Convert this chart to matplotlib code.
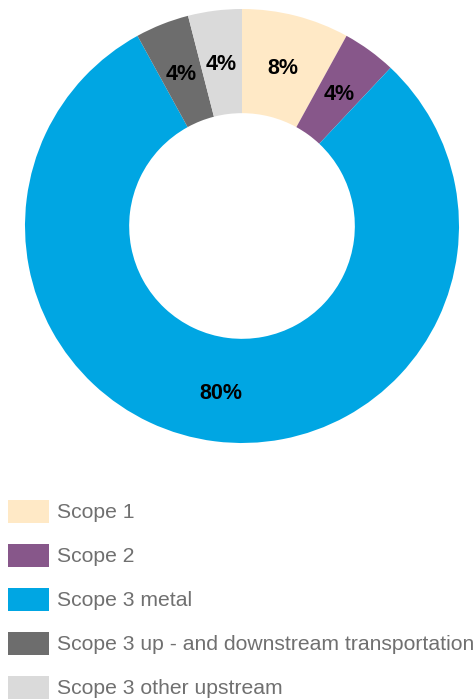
import numpy as np
import matplotlib.pyplot as plt
from matplotlib.patches import Rectangle

labels = ['Scope 1', 'Scope 2', 'Scope 3 metal',
          'Scope 3 up - and downstream transportation', 'Scope 3 other upstream']
shares = [8, 4, 80, 4, 4]
colors = ['#FFE9C6', '#87578A', '#00A6E3', '#6D6D6D', '#DADADA']

W, H = 477, 700
fig = plt.figure(figsize=(W / 100, H / 100), dpi=100)

# donut: centre (242, 226) px, outer radius 217 px
cx, cy, r = 242, 226, 217
ax = fig.add_axes([(cx - r) / W, 1 - (cy + r) / H, 2 * r / W, 2 * r / H])
wedges, _ = ax.pie(shares, colors=colors, startangle=90, counterclock=False,
                   radius=1, wedgeprops=dict(width=0.48, edgecolor='none'))

# percentage labels in the middle of the ring, nudged a little down
for w, v in zip(wedges, shares):
    mid = np.deg2rad((w.theta1 + w.theta2) / 2)
    ax.text(0.765 * np.cos(mid), 0.765 * np.sin(mid) - 3 / r, f'{v}%',
            fontsize=15.5, fontweight='bold', color='black',
            family='Liberation Sans', ha='center', va='center')
ax.set_xlim(-1, 1)
ax.set_ylim(-1, 1)
ax.set_aspect('equal')

# legend drawn by hand below the donut
row0, step = 511.5, 44
for i, (lab, col) in enumerate(zip(labels, colors)):
    yc = row0 + i * step
    fig.patches.append(Rectangle((8 / W, 1 - (yc + 11.5) / H), 41 / W, 23 / H,
                                 transform=fig.transFigure, facecolor=col,
                                 edgecolor='none'))
    fig.text(57 / W, 1 - (yc + 1.5) / H, lab, fontsize=15.2, color='#707070',
             family='Liberation Sans', ha='left', va='center')

fig.savefig('out.png', dpi=100)
